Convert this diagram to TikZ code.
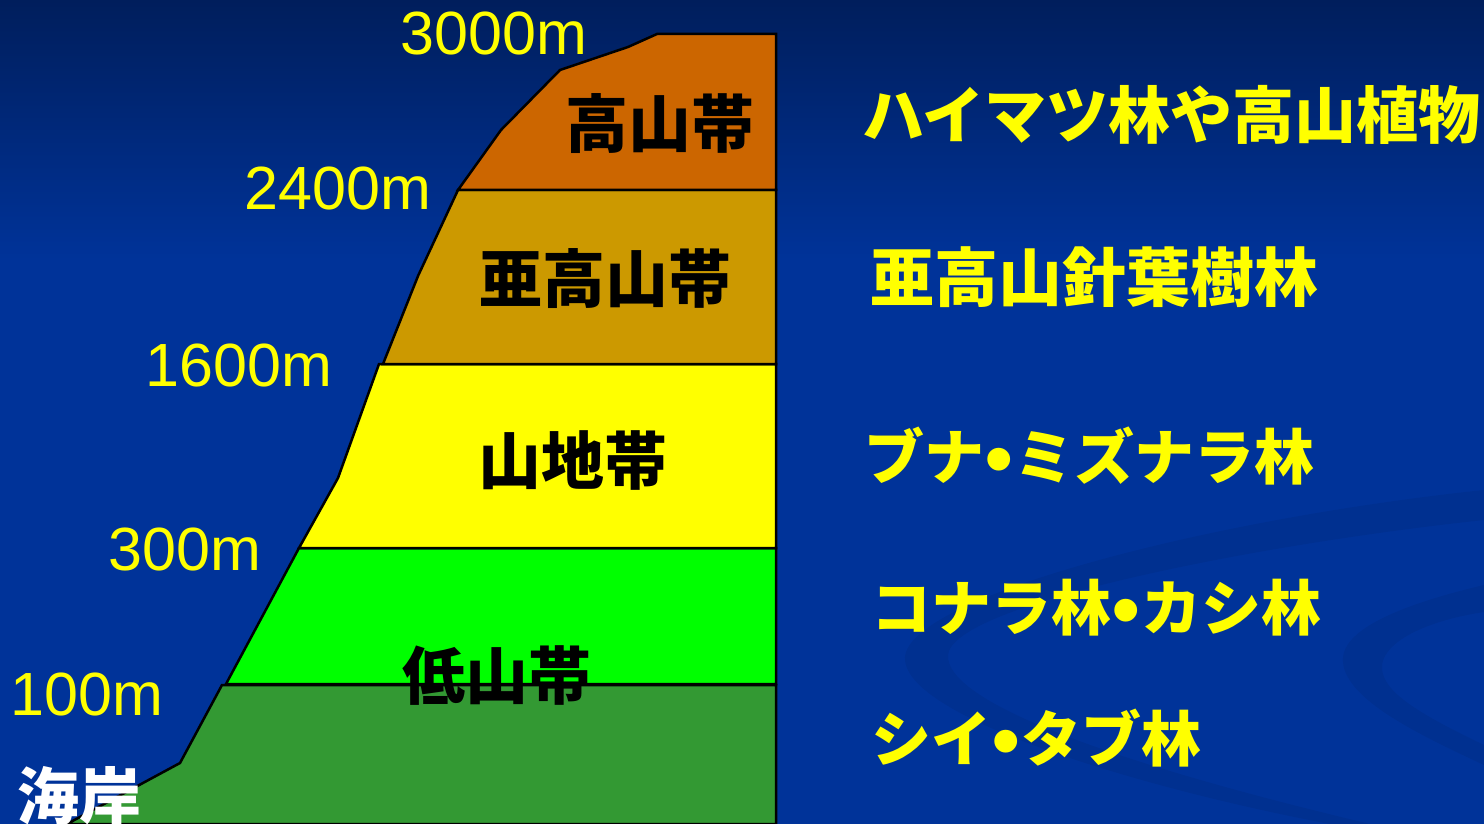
\documentclass[tikz,border=0pt]{standalone}
\usepackage{graphicx}
\usepackage{fontspec}
\setmainfont{Liberation Sans}
\newfontfamily\jp{Noto Sans CJK JP}
\definecolor{bgtop}{HTML}{001E5C}
\definecolor{bgmain}{HTML}{003399}
\definecolor{alpine}{HTML}{CC6600}
\definecolor{subalp}{HTML}{CC9900}
\definecolor{montane}{HTML}{FFFF00}
\definecolor{lowland}{HTML}{00FF00}
\definecolor{coast}{HTML}{339933}
\definecolor{labyel}{HTML}{FFFF00}
\newcommand{\nakaten}{\makebox[0.5em]{\rmfamily\mdseries\raisebox{-0.14em}{\scalebox{1.4}{•}}}}
\tikzset{
  band/.style={draw=black, line width=2.5pt, line join=miter},
  hlabel/.style={anchor=base, text=labyel, font=\fontsize{61}{61}\selectfont, inner sep=0pt},
  zlabel/.style={anchor=base, text=black, font=\jp\bfseries\fontsize{63}{63}\selectfont, inner sep=0pt},
  vlabel/.style={anchor=base west, text=labyel, font=\jp\bfseries\fontsize{60}{60}\selectfont, inner sep=0pt},
  swirl/.style={fill=black, fill opacity=0.06},
}
\begin{document}
\begin{tikzpicture}[x=1pt,y=-1pt]
\useasboundingbox (0,0) rectangle (1484,824);
% background
\fill[bgmain] (0,0) rectangle (1484,824);
\shade[top color=bgtop, bottom color=bgmain] (0,0) rectangle (1484,260);
% faint swirls
\fill[swirl] (1484,490) .. controls (1200,520) and (900,600) .. (905,660) .. controls (910,720) and (1150,790) .. (1330,824) -- (1370,824) .. controls (1100,760) and (945,700) .. (948,655) .. controls (952,605) and (1250,545) .. (1484,520) -- cycle;
\fill[swirl] (1484,585) .. controls (1400,605) and (1340,630) .. (1343,662) .. controls (1346,700) and (1420,735) .. (1484,765) -- (1484,745) .. controls (1415,712) and (1380,690) .. (1382,665) .. controls (1385,640) and (1430,620) .. (1484,612) -- cycle;
% bands
\path[band, fill=coast] (222,685) -- (180,763) -- (67,824) -- (776,824) -- (776,685) -- cycle;
\path[band, fill=lowland] (299,548) -- (226,684) -- (776,684) -- (776,548) -- cycle;
\path[band, fill=montane] (379,364) -- (338,478) -- (299,548) -- (776,548) -- (776,364) -- cycle;
\path[band, fill=subalp] (458,190) -- (418,276) -- (383,364) -- (776,364) -- (776,190) -- cycle;
\path[band, fill=alpine] (458,190) -- (501,130) -- (560,70) -- (628,47) -- (657,34) -- (776,34) -- (776,190) -- cycle;
% altitude labels
\node[hlabel] (h3000) at (494,55) {3000m};
\node[hlabel] (h2400) at (338,209) {2400m};
\node[hlabel] (h1600) at (239,386) {1600m};
\node[hlabel] (h300) at (185,570) {300m};
\node[hlabel] (h100) at (87,715) {100m};
\node[anchor=base, text=white, font=\jp\bfseries\fontsize{62}{62}\selectfont, inner sep=0pt] (coastlbl) at (79,819) {海岸};
% zone labels
\node[zlabel] (z1) at (660,148) {高山帯};
\node[zlabel] (z2) at (605,302) {亜高山帯};
\node[zlabel] (z3) at (573,484) {山地帯};
\node[zlabel] (z4) at (497,699) {低山帯};
% vegetation labels
\node[vlabel, font=\jp\bfseries\fontsize{62}{62}\selectfont] (v1) at (862,139) {ハイマツ林や高山植物};
\node[vlabel, font=\jp\bfseries\fontsize{64}{64}\selectfont] (v2) at (870,301) {亜高山針葉樹林};
\node[vlabel] (v3) at (864,479) {ブナ\nakaten ミズナラ林};
\node[vlabel] (v4) at (871,630) {コナラ林\nakaten カシ林};
\node[vlabel] (v5) at (871,761) {シイ\nakaten タブ林};
\end{tikzpicture}
\end{document}
